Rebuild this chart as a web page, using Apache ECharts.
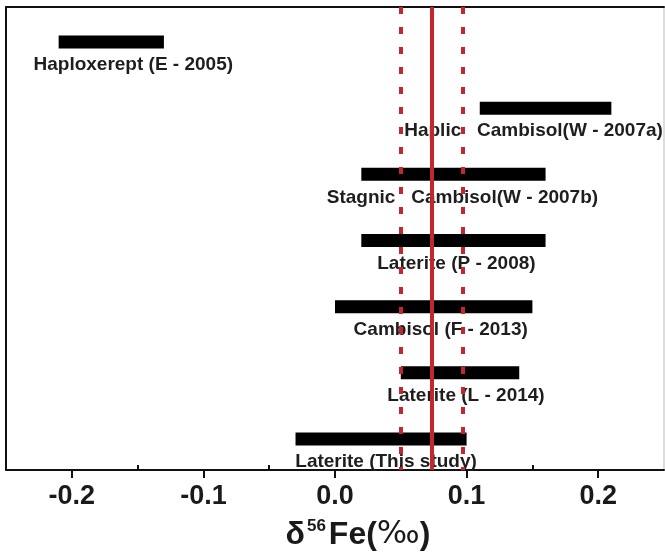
<!DOCTYPE html>
<html>
<head>
<meta charset="utf-8">
<script src="https://cdn.jsdelivr.net/npm/echarts@6/dist/echarts.min.js"></script>
<style>
html,body{margin:0;padding:0;background:#fff;}
#chart{width:665px;height:553px;}
</style>
</head>
<body>
<div id="chart"></div>
<script>
// ---- data ----
const categories = [
  'Haploxerept (E - 2005)',
  'Haplic   Cambisol(W - 2007a)',
  'Stagnic   Cambisol(W - 2007b)',
  'Laterite (P - 2008)',
  'Cambisol (F - 2013)',
  'Laterite (L - 2014)',
  'Laterite (This study)'
];
const lowValues  = [-0.21, 0.11, 0.02, 0.02, 0.00, 0.05, -0.03];
const highValues = [-0.13, 0.21, 0.16, 0.16, 0.15, 0.14, 0.10];
const meanValue = 0.0735;
const rangeValues = [0.050, 0.097];
const tickValues = [-0.2, -0.1, 0.0, 0.1, 0.2];
const minorTickValues = [-0.15, -0.05, 0.05, 0.15];
const axisTitle = '{d|δ}{s|56}{f|Fe(}{p|‰}{f|)}';

// ---- style (label pixel offsets relative to bar centre) ----
const labelDx = [22, -12, 9, 3, 7, 6, 5];

const chart = echarts.init(document.getElementById('chart'));
const red = '#c1272d';
const labelFont = 'bold 19px "Liberation Sans", Arial, sans-serif';

const seriesData = categories.map((c, i) => [lowValues[i], highValues[i], c]);

chart.setOption({
  animation: false,
  backgroundColor: '#fff',
  grid: { left: 6, right: 1, top: 7, bottom: 83, containLabel: false, outerBoundsMode: 'none',
          show: true, borderColor: '#bbb', borderWidth: 1 },
  xAxis: [
    {
      type: 'value', min: -0.25, max: 0.25, position: 'bottom',
      splitLine: { show: false },
      axisLine: { show: true, onZero: false, lineStyle: { color: '#111', width: 2 } },
      axisTick: { show: true, inside: false, length: 8, customValues: tickValues, lineStyle: { color: '#111', width: 2 } },
      axisLabel: {
        show: true, customValues: tickValues, margin: 13,
        formatter: v => v.toFixed(1),
        color: '#1a1a1a', fontSize: 27, fontWeight: 'bold', fontFamily: '"Liberation Sans", Arial, sans-serif'
      },
      name: axisTitle, nameLocation: 'middle', nameGap: 48,
      nameTextStyle: {
        padding: [0, 0, 0, 46],
        rich: {
          d: { fontSize: 32, fontWeight: 'bold', color: '#1a1a1a', fontFamily: '"Liberation Sans", Arial, sans-serif' },
          s: { fontSize: 17, fontWeight: 'bold', color: '#1a1a1a', padding: [0, 3, 17, 2], fontFamily: '"Liberation Sans", Arial, sans-serif' },
          f: { fontSize: 32, fontWeight: 'bold', color: '#1a1a1a', fontFamily: '"Liberation Sans", Arial, sans-serif' },
          p: { fontSize: 32, fontWeight: 'normal', color: '#1a1a1a', fontFamily: '"DejaVu Sans", sans-serif' }
        }
      }
    },
    {
      type: 'value', min: -0.25, max: 0.25, position: 'bottom', gridIndex: 0,
      splitLine: { show: false },
      axisLine: { show: false, onZero: false },
      axisTick: { show: true, inside: true, length: 5, customValues: minorTickValues, lineStyle: { color: '#111', width: 2 } },
      axisLabel: { show: false }
    },
    {
      type: 'value', min: -0.25, max: 0.25, position: 'top', gridIndex: 0,
      splitLine: { show: false },
      axisLine: { show: true, onZero: false, lineStyle: { color: '#111', width: 2 } },
      axisTick: { show: false },
      axisLabel: { show: false }
    }
  ],
  yAxis: [
    {
      type: 'category', data: categories, inverse: true, boundaryGap: true,
      axisLine: { show: true, onZero: false, lineStyle: { color: '#111', width: 2 } },
      axisTick: { show: false }, axisLabel: { show: false }, splitLine: { show: false }
    }
  ],
  series: [
    {
      type: 'custom',
      xAxisIndex: 0, yAxisIndex: 0,
      dimensions: ['lo', 'hi', 'cat'],
      data: seriesData,
      encode: { x: ['lo', 'hi'], y: 'cat' },
      clip: false,
      renderItem: function (params, api) {
        const idx = params.dataIndex;
        const lo = api.coord([api.value('lo'), idx]);
        const hi = api.coord([api.value('hi'), idx]);
        const yc = lo[1] + 2;
        return {
          type: 'group',
          children: [
            { type: 'rect', shape: { x: lo[0], y: yc - 6.5, width: hi[0] - lo[0], height: 13 }, style: { fill: '#000' } },
            { type: 'text', style: {
                x: (lo[0] + hi[0]) / 2 + labelDx[idx], y: yc + 23,
                text: categories[idx], align: 'center', verticalAlign: 'middle',
                font: labelFont, fill: '#1e1e1e'
            } }
          ]
        };
      }
    },
    {
      type: 'scatter',
      xAxisIndex: 0, yAxisIndex: 0,
      data: [],
      markLine: {
        silent: true, symbol: 'none', label: { show: false }, z: 10, precision: 4,
        data: [
          { xAxis: meanValue, lineStyle: { color: red, width: 4, type: 'solid' } },
          { xAxis: rangeValues[0], lineStyle: { color: red, width: 4, type: [7, 13] } },
          { xAxis: rangeValues[1], lineStyle: { color: red, width: 4, type: [7, 13] } }
        ]
      }
    }
  ]
});
</script>
</body>
</html>
